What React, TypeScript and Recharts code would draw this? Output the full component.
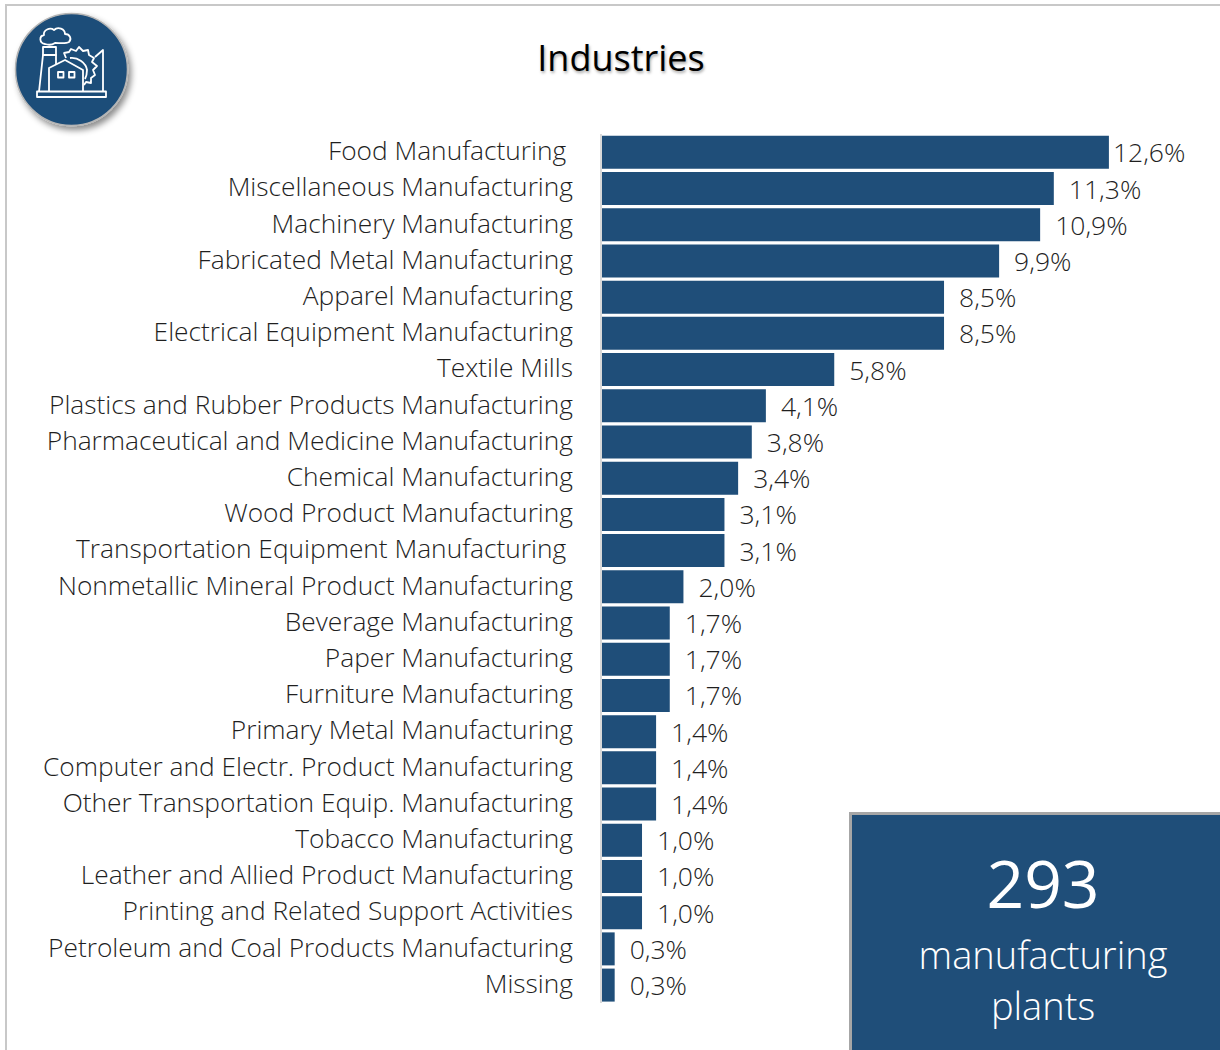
import { BarChart, Bar, XAxis, YAxis, LabelList } from 'recharts';

const categories = [
  'Food Manufacturing ', 'Miscellaneous Manufacturing', 'Machinery Manufacturing',
  'Fabricated Metal Manufacturing', 'Apparel Manufacturing', 'Electrical Equipment Manufacturing',
  'Textile Mills', 'Plastics and Rubber Products Manufacturing',
  'Pharmaceutical and Medicine Manufacturing', 'Chemical Manufacturing',
  'Wood Product Manufacturing', 'Transportation Equipment Manufacturing ',
  'Nonmetallic Mineral Product Manufacturing', 'Beverage Manufacturing', 'Paper Manufacturing',
  'Furniture Manufacturing', 'Primary Metal Manufacturing', 'Computer and Electr. Product Manufacturing',
  'Other Transportation Equip. Manufacturing', 'Tobacco Manufacturing',
  'Leather and Allied Product Manufacturing', 'Printing and Related Support Activities',
  'Petroleum and Coal Products Manufacturing', 'Missing',
];
const shares = [
  12.63, 11.26, 10.92, 9.9, 8.53, 8.53, 5.8, 4.1, 3.75, 3.41, 3.07, 3.07,
  2.05, 1.71, 1.71, 1.71, 1.37, 1.37, 1.37, 1.02, 1.02, 1.02, 0.34, 0.34,
];
const chartData = categories.map((name, i) => ({ name, share: shares[i] }));

const FONT = '"Open Sans", "Noto Sans", sans-serif';
const BLUE = '#1F4E79';
const TEXT = '#1f1f1f';

function CategoryTick({ x, y, payload }: any) {
  return (
    <text x={x} y={y} dy={8} textAnchor="end" fontFamily={FONT} fontSize={26.3} fontWeight={300} fill={TEXT} style={{ whiteSpace: 'pre' }}>
      {payload.value}
    </text>
  );
}

// the first label sits closer to its bar than the others
function ShareLabel({ x, y, width, height, value, index }: any) {
  const gap = index === 0 ? 4 : 15;
  return (
    <text x={x + width + gap} y={y + height / 2} dy={10} fontFamily={FONT} fontSize={26.5} fontWeight={300} fill={TEXT}>
      {`${Number(value).toFixed(1).replace('.', ',')}%`}
    </text>
  );
}

function FactoryIcon() {
  return (
    <svg width={150} height={150} style={{ position: 'absolute', left: 0, top: 0, overflow: 'visible' }}>
      <defs>
        <filter id="soft" x="-30%" y="-30%" width="160%" height="160%">
          <feDropShadow dx={3} dy={4} stdDeviation={3} floodColor="#000" floodOpacity={0.45} />
        </filter>
      </defs>
      <circle cx={71.5} cy={69.5} r={56} fill={BLUE} stroke="#b5b5b5" strokeWidth={1.5} filter="url(#soft)" />
      <g fill="none" stroke="#fff" strokeWidth={1.8} strokeLinejoin="round">
        <path d="M37 91.5 H106 V97 H37 Z" />
        <path d="M39 91.5 L43 55 H56 V65" />
        <path d="M43 47 H56 V55 H43 Z" />
        <path d="M49 91.5 V68 L65 60 L83 70 V91.5" />
        <path d="M66 58 L64 53 L69 52 L71 49 L76 51 L79 47 L83 51 L88 50 L89 55 L94 58 L92 62 L97 66 L93 70 L95 75 L91 78 L91 83 L86 82 L84 85" />
        <path d="M70 58 C78 57 86 63 87 70 C87 74 86 77 85 79" />
        <path d="M95 57 L103 50 V91.5" />
        <path d="M45 44 C39 43 39 36 44 35 C43 30 50 27 54 30 C58 26 65 29 65 34 C70 34 72 39 69 42 C66 44 60 43 55 43 C52 45 48 45 45 44 Z" />
        <rect x={58} y={72} width={5.5} height={5.5} />
        <rect x={69} y={72} width={5.5} height={5.5} />
      </g>
    </svg>
  );
}

export default function App() {
  return (
    <div style={{ position: 'absolute', left: 0, top: 0, width: 1220, height: 1050, background: '#fff', overflow: 'hidden', fontFamily: FONT }}>
      <div style={{ position: 'absolute', left: 5, top: 4, width: 1215, height: 1046, borderTop: '2px solid #c8c8c8', borderLeft: '2px solid #c8c8c8', boxSizing: 'border-box' }} />
      <FactoryIcon />
      <div style={{ position: 'absolute', left: 1, width: 1240, top: 33, textAlign: 'center', fontSize: 36, color: '#000', textShadow: '1px 2px 3px rgba(0,0,0,0.35)' }}>
        Industries
      </div>
      <div style={{ position: 'absolute', left: 0, top: 0 }}>
        <BarChart width={1220} height={1050} data={chartData} layout="vertical" barCategoryGap={1.8} margin={{ top: 134, right: 56, bottom: 47, left: 0 }}>
          <XAxis type="number" hide domain={[0, 14]} />
          <YAxis
            type="category"
            dataKey="name"
            width={601}
            interval={0}
            tickLine={false}
            tickMargin={22}
            axisLine={{ stroke: '#d9d9d9', strokeWidth: 2 }}
            tick={<CategoryTick />}
          />
          <Bar dataKey="share" fill={BLUE} isAnimationActive={false}>
            <LabelList dataKey="share" content={<ShareLabel />} />
          </Bar>
        </BarChart>
      </div>
      <div style={{ position: 'absolute', left: 849, top: 812, width: 371, height: 238, background: BLUE, borderTop: '3px solid #a6a6a6', borderLeft: '3px solid #a6a6a6', boxSizing: 'border-box', color: '#fff', textAlign: 'center' }}>
        <div style={{ position: 'absolute', left: 14, right: 0, top: 27, fontSize: 66, lineHeight: '80px' }}>293</div>
        <div style={{ position: 'absolute', left: 14, right: 0, top: 114, fontSize: 38, fontWeight: 300, lineHeight: '51px' }}>
          manufacturing<br />plants
        </div>
      </div>
    </div>
  );
}
